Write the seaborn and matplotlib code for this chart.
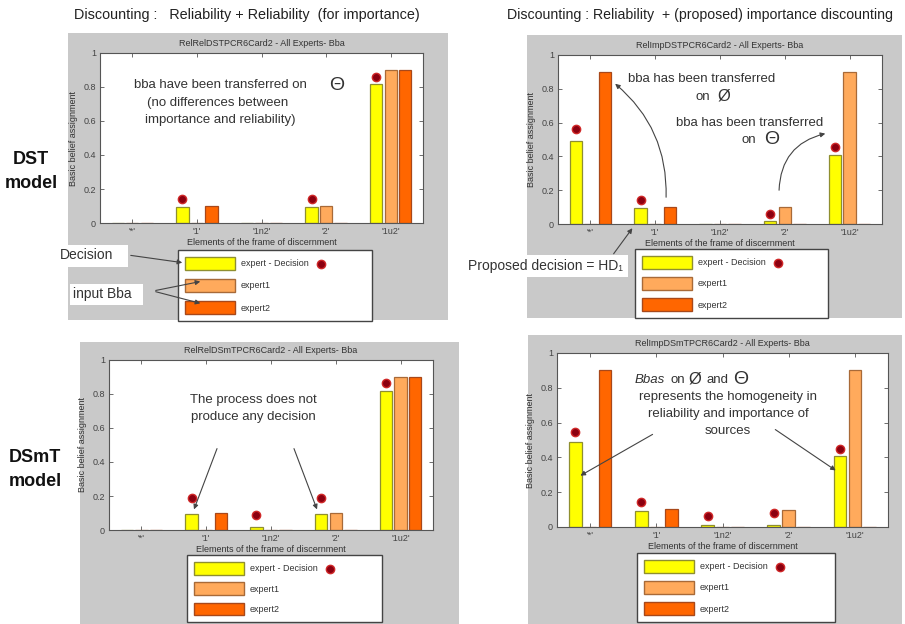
import numpy as np
import pandas as pd
import matplotlib
matplotlib.use("Agg")
import matplotlib.pyplot as plt
import seaborn as sns
from matplotlib.patches import Rectangle, Patch, FancyArrowPatch

plt.rcParams["font.family"] = ["Liberation Sans", "DejaVu Sans"]

# ---------------- data ----------------
categories = ["'*'", "'1'", "'1n2'", "'2'", "'1u2'"]
series_names = ["expert - Decision", "expert1", "expert2"]
yticks = [0, 0.2, 0.4, 0.6, 0.8, 1.0]
ytick_labels = ["0", "0.2", "0.4", "0.6", "0.8", "1"]

titles = ["RelRelDSTPCR6Card2 - All Experts- Bba",
          "RelImpDSTPCR6Card2 - All Experts- Bba",
          "RelRelDSmTPCR6Card2 - All Experts- Bba",
          "RelImpDSmTPCR6Card2 - All Experts- Bba"]

# DST model, reliability + reliability
dst_relrel_decision = [0.0, 0.097, 0.0, 0.097, 0.815]
dst_relrel_expert1 = [0.0, 0.0, 0.0, 0.10, 0.90]
dst_relrel_expert2 = [0.0, 0.10, 0.0, 0.0, 0.90]
dst_relrel_marker = [np.nan, 0.142, np.nan, 0.142, 0.86]

# DST model, reliability + proposed importance
dst_relimp_decision = [0.49, 0.097, 0.0, 0.018, 0.41]
dst_relimp_expert1 = [0.0, 0.0, 0.0, 0.10, 0.90]
dst_relimp_expert2 = [0.90, 0.10, 0.0, 0.0, 0.0]
dst_relimp_marker = [0.56, 0.142, np.nan, 0.059, 0.454]

# DSmT model, reliability + reliability
dsmt_relrel_decision = [0.0, 0.093, 0.015, 0.093, 0.815]
dsmt_relrel_expert1 = [0.0, 0.0, 0.0, 0.10, 0.90]
dsmt_relrel_expert2 = [0.0, 0.10, 0.0, 0.0, 0.90]
dsmt_relrel_marker = [np.nan, 0.19, 0.087, 0.19, 0.866]

# DSmT model, reliability + proposed importance
dsmt_relimp_decision = [0.49, 0.094, 0.013, 0.013, 0.41]
dsmt_relimp_expert1 = [0.0, 0.0, 0.0, 0.10, 0.90]
dsmt_relimp_expert2 = [0.90, 0.105, 0.0, 0.0, 0.0]
dsmt_relimp_marker = [0.548, 0.145, 0.061, 0.082, 0.447]

panel_data = [
    (dst_relrel_decision, dst_relrel_expert1, dst_relrel_expert2, dst_relrel_marker),
    (dst_relimp_decision, dst_relimp_expert1, dst_relimp_expert2, dst_relimp_marker),
    (dsmt_relrel_decision, dsmt_relrel_expert1, dsmt_relrel_expert2, dsmt_relrel_marker),
    (dsmt_relimp_decision, dsmt_relimp_expert1, dsmt_relimp_expert2, dsmt_relimp_marker),
]

# ---------------- style / layout ----------------
face_colors = {"expert - Decision": "#ffff00", "expert1": "#ffaa5c", "expert2": "#ff6600"}
edge_colors = ["#8f8f30", "#a86a38", "#a8481a"]
GREY = "#c9c9c9"
W, H = 905, 624

# (grey box l,t,r,b), (axes l,t,r,b), (legend l, top, r), legend labelspacing
layout = [
    ((68, 33, 448, 320), (100, 53, 423, 223), (178, 250, 372), 1.05),
    ((527, 35, 902, 318), (558, 55, 882, 224), (635, 249, 828), 0.95),
    ((80, 342, 459, 624), (109, 360, 433, 530), (187, 555, 382), 0.85),
    ((528, 335, 902, 624), (557, 353, 888, 527), (637, 553, 835), 0.95),
]

fig = plt.figure(figsize=(W / 100, H / 100), dpi=100)
fig.patch.set_facecolor("white")


def fx(x):
    return x / W


def fy(y):
    return 1 - y / H


for (gl, gt, gr, gb), _, _, _ in layout:
    fig.add_artist(Rectangle((fx(gl), fy(gb)), fx(gr) - fx(gl), fy(gt) - fy(gb),
                             transform=fig.transFigure, facecolor=GREY,
                             edgecolor="none", zorder=0))

axes = []
legends = []
for i, (g, (al, at, ar, ab), (ll, lt, lr), lsp) in enumerate(layout):
    dec, e1, e2, mk = panel_data[i]
    ax = fig.add_axes([fx(al), fy(ab), fx(ar) - fx(al), fy(at) - fy(ab)])
    df = pd.DataFrame({
        "cat": categories * 3,
        "series": np.repeat(series_names, len(categories)),
        "value": list(dec) + list(e1) + list(e2),
    })
    sns.barplot(data=df, x="cat", y="value", hue="series", order=categories,
                hue_order=series_names, palette=face_colors, saturation=1,
                width=0.675, gap=0.15, errorbar=None, linewidth=0.9,
                ax=ax, legend=False, zorder=2)
    for cont, ec in zip(ax.containers, edge_colors):
        for p in cont:
            p.set_edgecolor(ec)
    # decision markers above the decision bars
    xs = [p.get_x() + p.get_width() / 2 for p in ax.containers[0]]
    mk_arr = np.array(mk, dtype=float)
    ok = ~np.isnan(mk_arr)
    ax.plot(np.array(xs)[ok], mk_arr[ok], linestyle="none", marker="o",
            markersize=6, markerfacecolor="#8c0010", markeredgecolor="#d02828",
            markeredgewidth=1.0, zorder=4, clip_on=False)

    ax.set_xlim(-0.5, 4.5)
    ax.set_ylim(0, 1)
    ax.set_yticks(yticks)
    ax.set_yticklabels(ytick_labels)
    ax.set_facecolor("white")
    ax.tick_params(direction="in", top=True, right=True, length=3, width=0.6,
                   labelsize=6.5, colors="#555555", labelcolor="#444444", pad=3)
    for s in ax.spines.values():
        s.set_color("#555555")
        s.set_linewidth(0.8)
    ax.set_title(titles[i], fontsize=6.5, color="#333333", pad=5)
    ax.set_xlabel("Elements of the frame of discernment", fontsize=6.5,
                  color="#333333", labelpad=1)
    ax.set_ylabel("Basic belief assignment", fontsize=6.5, color="#333333",
                  labelpad=4)

    handles = [Patch(facecolor=face_colors[n], edgecolor=ec, linewidth=1.0)
               for n, ec in zip(series_names, edge_colors)]
    leg = ax.legend(handles, series_names, loc="upper left",
                    bbox_to_anchor=(fx(ll), fy(lt), fx(lr) - fx(ll), 0),
                    bbox_transform=fig.transFigure, mode="expand",
                    borderaxespad=0, fancybox=False, framealpha=1,
                    edgecolor="#444444", fontsize=6.5, handlelength=5.6,
                    handleheight=1.8, labelspacing=lsp, borderpad=0.75,
                    handletextpad=0.6)
    leg.get_frame().set_linewidth(1.0)
    for t in leg.get_texts():
        t.set_color("#333333")
    axes.append(ax)
    legends.append(leg)

# red dot after "expert - Decision" in each legend
fig.canvas.draw()
renderer = fig.canvas.get_renderer()
for leg in legends:
    bb = leg.get_texts()[0].get_window_extent(renderer)
    xdot = bb.x1 + 13
    ydot = (bb.y0 + bb.y1) / 2
    fig.add_artist(matplotlib.lines.Line2D([xdot / W], [ydot / H],
                   transform=fig.transFigure, marker="o", markersize=6,
                   markerfacecolor="#8c0010", markeredgecolor="#d02828",
                   markeredgewidth=1.0, linestyle="none", zorder=10))

# ---------------- annotations ----------------
TXT = "#333333"
fam = ["Liberation Sans", "DejaVu Sans"]


def ftext(x, y, s, size=9.5, ha="center", **kw):
    fig.text(fx(x), fy(y), s, ha=ha, va="center", fontsize=size, color=kw.pop("color", TXT),
             family=kw.pop("family", fam), **kw)


def arrow(p0, p1, rad=0.0, head=True):
    a = FancyArrowPatch((fx(p0[0]), fy(p0[1])), (fx(p1[0]), fy(p1[1])),
                        transform=fig.transFigure,
                        arrowstyle="-|>" if head else "-", mutation_scale=7,
                        connectionstyle=f"arc3,rad={rad}", color="#444444",
                        linewidth=0.8, zorder=9)
    fig.add_artist(a)


# headings
ftext(247, 15, "Discounting :   Reliability + Reliability  (for importance)", size=10.4, color="#222222")
ftext(700, 15, "Discounting : Reliability  + (proposed) importance discounting", size=10.2, color="#222222")

# row labels
ftext(31, 160, "DST", size=13, weight="bold", color="#111111")
ftext(31, 183, "model", size=13, weight="bold", color="#111111")
ftext(35, 458, "DSmT", size=13, weight="bold", color="#111111")
ftext(35, 481, "model", size=13, weight="bold", color="#111111")

# top-left
ftext(220, 85, "bba have been transferred on")
ftext(218, 103, "(no differences between")
ftext(220, 120, "importance and reliability)")
ftext(337, 85, "Θ", size=14)

for (x0, y0, x1, y1) in [(57, 245, 128, 267), (70, 284, 143, 305)]:
    fig.add_artist(Rectangle((fx(x0), fy(y1)), fx(x1) - fx(x0), fy(y0) - fy(y1),
                             transform=fig.transFigure, facecolor="white",
                             edgecolor="none", zorder=5))
ftext(60, 255, "Decision", size=10, ha="left", zorder=6)
ftext(73, 294, "input Bba", size=10, ha="left", zorder=6)
arrow((128, 255), (185, 263))
arrow((153, 291), (203, 281))
arrow((153, 291), (203, 304))

# top-right
ftext(702, 79, "bba has been transferred")
ftext(695, 97, "on", ha="left")
ftext(717, 96, "Ø", ha="left", size=12)
ftext(750, 123, "bba has been transferred")
ftext(742, 140, "on", ha="left")
ftext(764, 139, "Θ", ha="left", size=14)
arrow((666, 200), (613, 82), rad=0.25)
arrow((779, 193), (828, 133), rad=-0.4)

fig.add_artist(Rectangle((fx(460), fy(277)), fx(628) - fx(460), fy(255) - fy(277),
                         transform=fig.transFigure, facecolor="white",
                         edgecolor="none", zorder=5))
ftext(468, 266, "Proposed decision = HD₁", size=10, ha="left", zorder=6)
arrow((612, 256), (634, 226))

# bottom-left
ftext(253, 400, "The process does not")
ftext(253, 417, "produce any decision")
arrow((218, 446), (193, 512))
arrow((293, 446), (318, 512))

# bottom-right
ftext(635, 380, "Bbas", ha="left", style="italic")
ftext(670, 380, "on", ha="left")
ftext(688, 379, "Ø", ha="left", size=12)
ftext(706, 380, "and", ha="left")
ftext(733, 379, "Θ", ha="left", size=14)
ftext(728, 397, "represents the homogeneity in")
ftext(728, 414, "reliability and importance of")
ftext(728, 431, "sources")
arrow((655, 433), (578, 477))
arrow((773, 428), (838, 472))

fig.savefig("out.png", dpi=100)
